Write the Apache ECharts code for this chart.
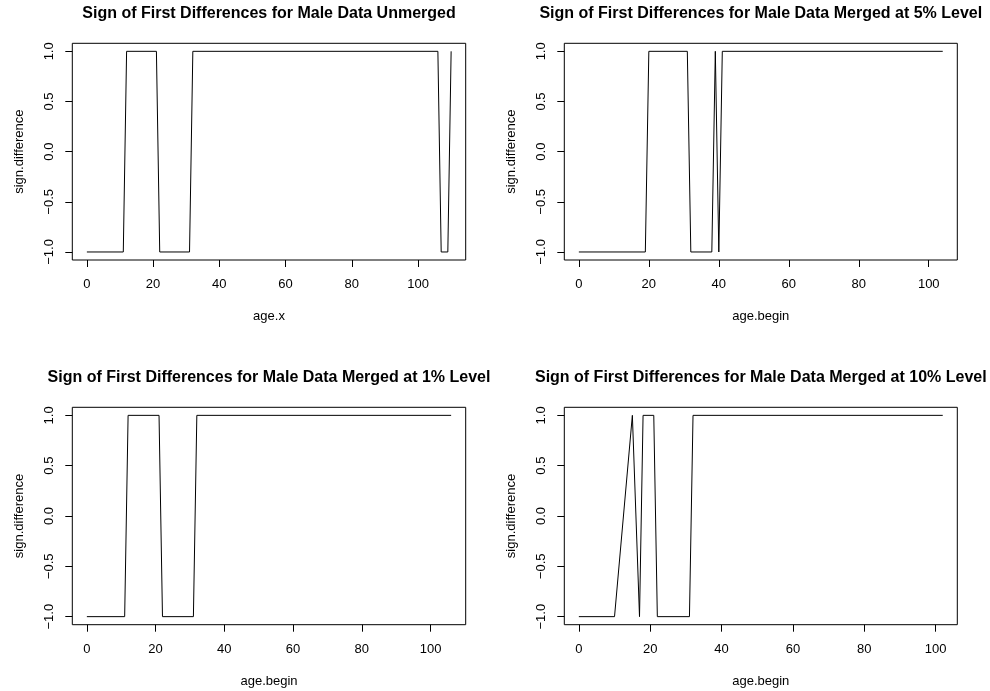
<!DOCTYPE html>
<html>
<head>
<meta charset="utf-8">
<script src="https://cdn.jsdelivr.net/npm/echarts@6/dist/echarts.min.js"></script>
<style>
html,body{margin:0;padding:0;background:#fff;}
#chart{width:990px;height:691px;}
</style>
</head>
<body>
<div id="chart"></div>
<script>
// Panel titles and axis names
const titles = [
  'Sign of First Differences for Male Data Unmerged',
  'Sign of First Differences for Male Data Merged at 5% Level',
  'Sign of First Differences for Male Data Merged at 1% Level',
  'Sign of First Differences for Male Data Merged at 10% Level'
];
const xNames = ['age.x', 'age.begin', 'age.begin', 'age.begin'];
const yName = 'sign.difference';

// Data (breakpoints of each sign run)
const agesUnmerged = [0, 11, 12, 21, 22, 31, 32, 106, 107, 109, 110];
const signUnmerged = [-1, -1, 1, 1, -1, -1, 1, 1, -1, -1, 1];

const ages5 = [0, 19, 20, 31, 32, 38, 39, 40, 41, 104];
const sign5 = [-1, -1, 1, 1, -1, -1, 1, -1, 1, 1];

const ages1 = [0, 11, 12, 21, 22, 31, 32, 106];
const sign1 = [-1, -1, 1, 1, -1, -1, 1, 1];

const ages10 = [0, 10, 15, 17, 18, 21, 22, 31, 32, 102];
const sign10 = [-1, -1, 1, -1, 1, 1, -1, -1, 1, 1];

// Tick values
const xTicks = [0, 20, 40, 60, 80, 100];
const yTicks = [-1, -0.5, 0, 0.5, 1];

const panels = [
  [agesUnmerged, signUnmerged],
  [ages5, sign5],
  [ages1, sign1],
  [ages10, sign10]
];

const FONT = '"Liberation Sans", Arial, Helvetica, sans-serif';
const grids = [
  {left: 72.3, top: 43.3, width: 393.4, height: 216.7},
  {left: 564.3, top: 43.3, width: 393.0, height: 216.7},
  {left: 72.3, top: 407.3, width: 393.4, height: 217.4},
  {left: 564.3, top: 407.3, width: 393.0, height: 217.4}
];

const option = {
  animation: false,
  backgroundColor: '#ffffff',
  title: [], grid: [], xAxis: [], yAxis: [], series: []
};

panels.forEach((p, i) => {
  const g = grids[i];
  const ages = p[0], signs = p[1];
  const lo = Math.min(...ages), hi = Math.max(...ages);
  const ext = (hi - lo) * 0.04;
  option.grid.push({
    left: g.left, top: g.top, width: g.width, height: g.height,
    show: true, borderColor: '#000', borderWidth: 1, backgroundColor: 'transparent'
  });
  option.title.push({
    text: titles[i],
    left: g.left + g.width / 2,
    top: g.top - 38,
    textAlign: 'center',
    padding: 0,
    textStyle: {fontFamily: FONT, fontSize: 16, fontWeight: 'bold', color: '#000'}
  });
  option.xAxis.push({
    type: 'value', gridIndex: i, position: 'bottom',
    min: lo - ext, max: hi + ext,
    name: xNames[i], nameLocation: 'middle', nameGap: 50,
    nameTextStyle: {fontFamily: FONT, fontSize: 13, color: '#000'},
    axisLine: {show: false, onZero: false},
    axisTick: {show: true, inside: false, length: 7, customValues: xTicks, lineStyle: {color: '#000', width: 1}},
    axisLabel: {show: true, margin: 18, customValues: xTicks, fontFamily: FONT, fontSize: 13, color: '#000'},
    splitLine: {show: false}
  });
  option.yAxis.push({
    type: 'value', gridIndex: i, position: 'left',
    min: -1.08, max: 1.08,
    name: yName, nameLocation: 'middle', nameGap: 46,
    nameTextStyle: {fontFamily: FONT, fontSize: 13, color: '#000'},
    axisLine: {show: false, onZero: false},
    axisTick: {show: true, inside: false, length: 7, customValues: yTicks, lineStyle: {color: '#000', width: 1}},
    axisLabel: {
      show: true, margin: 16, rotate: 90, customValues: yTicks,
      fontFamily: FONT, fontSize: 13, color: '#000',
      formatter: v => (v < 0 ? '\u2212' : '') + Math.abs(v).toFixed(1)
    },
    splitLine: {show: false}
  });
  option.series.push({
    type: 'line', xAxisIndex: i, yAxisIndex: i,
    data: ages.map((a, k) => [a, signs[k]]),
    showSymbol: false, symbol: 'none',
    lineStyle: {color: '#000', width: 1},
    silent: true
  });
});

const chart = echarts.init(document.getElementById('chart'), null, {renderer: 'canvas'});
chart.setOption(option);
</script>
</body>
</html>
